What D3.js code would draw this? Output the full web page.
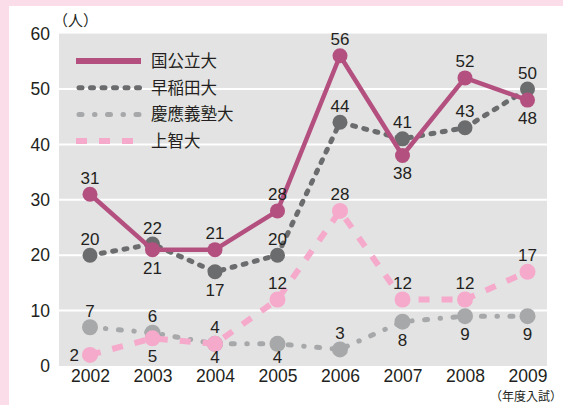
<!DOCTYPE html>
<html>
<head>
<meta charset="utf-8">
<script src="https://cdn.jsdelivr.net/npm/d3@7.9.0/dist/d3.min.js"></script>
<style>
  body { margin: 0; background: #fbdde9; }
  svg { display: block; font-family: "Liberation Sans", "Noto Sans CJK JP", sans-serif; }
</style>
</head>
<body>
<div id="chart"></div>
<script>
// data
const years = ["2002", "2003", "2004", "2005", "2006", "2007", "2008", "2009"];
const yTicks = [0, 10, 20, 30, 40, 50, 60];
const kokkoritsu = [31, 21, 21, 28, 56, 38, 52, 48];
const waseda = [20, 22, 17, 20, 44, 41, 43, 50];
const keio = [7, 6, 4, 4, 3, 8, 9, 9];
const sophia = [2, 5, 4, 12, 28, 12, 12, 17];
// label placement per point: "a" above, "b" below, "n" below (tight), "l" left
const kokkoritsuPos = ["a", "b", "a", "a", "a", "b", "a", "b"];
const wasedaPos = ["a", "a", "b", "a", "a", "a", "a", "a"];
const keioPos = ["a", "a", "n", "n", "a", "b", "b", "b"];
const sophiaPos = ["l", "b", "a", "a", "a", "a", "a", "a"];

const series = [
    {name: "慶應義塾大", values: keio, pos: keioPos, color: "#a7a8aa", width: 5, dash: "3 12.5 0.5 12.5", cap: "round", r: 8},
    {name: "上智大", values: sophia, pos: sophiaPos, color: "#f5aacb", width: 6, dash: "11 12", cap: "butt", r: 8},
    {name: "早稲田大", values: waseda, pos: wasedaPos, color: "#6b6c6e", width: 5, dash: "3 8.5", cap: "round", r: 7.5},
    {name: "国公立大", values: kokkoritsu, pos: kokkoritsuPos, color: "#b4507f", width: 4.5, dash: null, cap: "round", r: 7.5}
];
const legendOrder = ["国公立大", "早稲田大", "慶應義塾大", "上智大"];

const W = 563, H = 405;
const svg = d3.select("#chart").append("svg")
    .attr("width", W)
    .attr("height", H);

// white panel
svg.append("rect")
    .attr("x", 9).attr("y", 6)
    .attr("width", W - 9).attr("height", H - 6)
    .attr("fill", "#fff");

// scales
const x = d3.scalePoint().domain(years).range([90, 527.5]);
const y = d3.scaleLinear().domain([0, 60]).range([366, 33.6]);

// plot background
svg.append("rect")
    .attr("x", 59).attr("y", y(60))
    .attr("width", 547 - 59).attr("height", y(0) - y(60))
    .attr("fill", "#e3e3e3");

// grid lines
svg.append("g")
    .selectAll("line")
    .data(yTicks.filter(d => d > 0 && d < 60))
    .join("line")
    .attr("x1", 59).attr("x2", 547)
    .attr("y1", d => y(d)).attr("y2", d => y(d))
    .attr("stroke", "#fff")
    .attr("stroke-width", 2);

// y axis
const yAxis = svg.append("g")
    .attr("transform", "translate(50,0)")
    .call(d3.axisLeft(y).tickValues(yTicks).tickSize(0).tickPadding(0));
yAxis.select(".domain").remove();
yAxis.selectAll("text")
    .attr("font-size", 17.5)
    .attr("fill", "#231f20")
    .attr("font-family", "Liberation Sans, sans-serif");

svg.append("text")
    .attr("x", 53).attr("y", 26)
    .attr("font-size", 15)
    .attr("fill", "#231f20")
    .attr("font-family", "Noto Sans CJK JP")
    .text("（人）");

// x axis
const xAxis = svg.append("g")
    .attr("transform", `translate(0,${y(0)})`)
    .call(d3.axisBottom(x).tickSize(0).tickPadding(4));
xAxis.select(".domain").remove();
xAxis.selectAll("text")
    .attr("font-size", 17.5)
    .attr("fill", "#231f20")
    .attr("font-family", "Liberation Sans, sans-serif");

svg.append("text")
    .attr("x", 562).attr("y", 401)
    .attr("text-anchor", "end")
    .attr("font-size", 12)
    .attr("fill", "#231f20")
    .attr("font-family", "Noto Sans CJK JP")
    .text("（年度入試）");

// lines and points
const line = d3.line()
    .x((d, i) => x(years[i]))
    .y(d => y(d));

series.forEach(s => {
    const g = svg.append("g");
    g.append("path")
        .datum(s.values)
        .attr("fill", "none")
        .attr("stroke", s.color)
        .attr("stroke-width", s.width)
        .attr("stroke-dasharray", s.dash)
        .attr("stroke-linecap", s.cap)
        .attr("stroke-linejoin", "round")
        .attr("d", line);
    g.selectAll("circle")
        .data(s.values)
        .join("circle")
        .attr("cx", (d, i) => x(years[i]))
        .attr("cy", d => y(d))
        .attr("r", s.r)
        .attr("fill", s.color);
});

// value labels
const labelDy = {a: -10.5, b: 24, n: 19.5, l: 6};
series.forEach(s => {
    svg.append("g")
        .selectAll("text")
        .data(s.values)
        .join("text")
        .attr("x", (d, i) => s.pos[i] === "l" ? x(years[i]) - 11 : x(years[i]))
        .attr("y", (d, i) => y(d) + labelDy[s.pos[i]])
        .attr("text-anchor", (d, i) => s.pos[i] === "l" ? "end" : "middle")
        .attr("font-size", 17)
        .attr("fill", "#231f20")
        .text(d => d);
});

// legend
const legend = svg.append("g");
legendOrder.forEach((name, i) => {
    const s = series.find(d => d.name === name);
    const ly = 61 + i * 26.7;
    legend.append("line")
        .attr("x1", s.cap === "round" && s.dash ? 79 : 76)
        .attr("x2", 141)
        .attr("y1", ly).attr("y2", ly)
        .attr("stroke", s.color)
        .attr("stroke-width", s.dash ? s.width : 6)
        .attr("stroke-dasharray", s.dash)
        .attr("stroke-linecap", s.dash ? s.cap : "butt");
    legend.append("text")
        .attr("x", 151).attr("y", ly + 6)
        .attr("font-size", 16.5)
        .attr("fill", "#231f20")
        .attr("font-family", "Noto Sans CJK JP")
        .text(name);
});
</script>
</body>
</html>
